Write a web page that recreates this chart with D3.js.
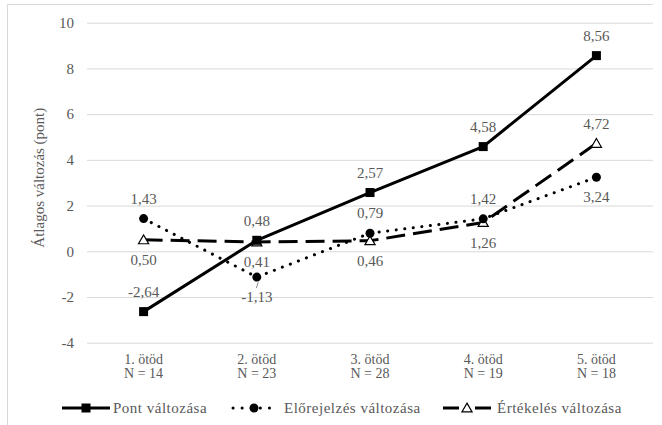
<!DOCTYPE html>
<html>
<head>
<meta charset="utf-8">
<script src="https://cdn.jsdelivr.net/npm/d3@7"></script>
</head>
<body style="margin:0">
<svg id="chart" width="662" height="425"></svg>
<script>
// Quintile groups and their sample sizes
const categories = ["1. ötöd", "2. ötöd", "3. ötöd", "4. ötöd", "5. ötöd"];
const sampleSizes = ["N = 14", "N = 23", "N = 28", "N = 19", "N = 18"];

// Average change per group
const pontValues = [-2.64, 0.48, 2.57, 4.58, 8.56];
const elorejelzesValues = [1.43, -1.13, 0.79, 1.42, 3.24];
const ertekelesValues = [0.50, 0.41, 0.46, 1.26, 4.72];

const seriesNames = ["Pont változása", "Előrejelzés változása", "Értékelés változása"];
const yTicks = [-4, -2, 0, 2, 4, 6, 8, 10];

const TEXT_COLOR = "#595959";

const svg = d3.select("#chart");
const W = 662, H = 425;
const plot = { left: 87, right: 653, top: 22.7, bottom: 342.7 };

// Serif label helper: every text node gets the same font family and colour
function label(parent, size) {
  return parent.append("text")
    .style("font-family", '"Liberation Serif"')
    .style("font-size", size + "px")
    .style("fill", TEXT_COLOR);
}

const x = d3.scaleBand().domain(categories).range([plot.left, plot.right]);
const cx = c => x(c) + x.bandwidth() / 2;
const y = d3.scaleLinear().domain([-4, 10]).range([plot.bottom, plot.top]);

// Chart frame (left and top edges)
svg.append("line").attr("x1", 7.5).attr("x2", 7.5).attr("y1", 4.5).attr("y2", H)
  .attr("stroke", "#d9d9d9").attr("stroke-width", 1);
svg.append("line").attr("x1", 7.5).attr("x2", 653).attr("y1", 4.5).attr("y2", 4.5)
  .attr("stroke", "#d9d9d9").attr("stroke-width", 1);

// Horizontal gridlines; tick labels are drawn separately below
const yAxis = d3.axisLeft(y).tickValues(yTicks).tickSize(-(plot.right - plot.left))
  .tickFormat("");
const gy = svg.append("g").attr("transform", `translate(${plot.left},0)`).call(yAxis);
gy.select(".domain").remove();
gy.selectAll(".tick line").attr("stroke", "#d9d9d9").attr("stroke-width", 1);
gy.selectAll(".tick text").remove();
yTicks.forEach(t => {
  label(svg, 15).attr("x", plot.left - 13).attr("y", y(t)).attr("dy", "0.35em")
    .attr("text-anchor", "end").text(t);
});

// Y axis title
label(svg, 15)
  .attr("transform", `translate(44,${(plot.top + plot.bottom) / 2 - 5}) rotate(-90)`)
  .attr("text-anchor", "middle")
  .text("Átlagos változás (pont)");

// Category labels (two lines)
categories.forEach((c, i) => {
  const t = label(svg, 14).attr("text-anchor", "middle");
  t.append("tspan").attr("x", cx(c)).attr("y", plot.bottom + 21).text(c);
  t.append("tspan").attr("x", cx(c)).attr("y", plot.bottom + 35).text(sampleSizes[i]);
});

// Series definitions: drawing style and label placement per point (-1 above, +1 below)
const series = [
  { name: seriesNames[0], values: pontValues, dash: null, cap: "butt", marker: "square",
    place: [-1, -1, -1, -1, -1] },
  { name: seriesNames[1], values: elorejelzesValues, dash: "0.1 8.5", cap: "round", marker: "circle",
    place: [-1, 1, -1, -1, 1] },
  { name: seriesNames[2], values: ertekelesValues, dash: "19 8", cap: "butt", marker: "triangle",
    place: [1, 1, 1, 1, -1] }
];

const line = d3.line().x((d, i) => cx(categories[i])).y(d => y(d));

function drawMarker(g, type, px, py, s) {
  if (type === "square") {
    g.append("rect").attr("x", px - s / 2).attr("y", py - s / 2).attr("width", s).attr("height", s)
      .attr("fill", "#000");
  } else if (type === "circle") {
    g.append("circle").attr("cx", px).attr("cy", py).attr("r", s / 2).attr("fill", "#000");
  } else {
    const tri = d3.symbol().type(d3.symbolTriangle).size(s * s * 0.55);
    g.append("path").attr("d", tri()).attr("transform", `translate(${px},${py + 1})`)
      .attr("fill", "#fff").attr("stroke", "#000").attr("stroke-width", 1.2);
  }
}

const fmt = v => v.toFixed(2).replace(".", ",");

// Draw series back to front: Értékelés, Előrejelzés, Pont
[2, 1, 0].forEach(si => {
  const s = series[si];
  const g = svg.append("g");
  const p = g.append("path").datum(s.values).attr("d", line)
    .attr("fill", "none").attr("stroke", "#000").attr("stroke-width", 3)
    .attr("stroke-linecap", s.cap).attr("stroke-linejoin", "round");
  if (s.dash) p.attr("stroke-dasharray", s.dash);
  s.values.forEach((v, i) => drawMarker(g, s.marker, cx(categories[i]), y(v), 9));
});

// Leader line for the -1,13 label
svg.append("line")
  .attr("x1", cx(categories[1]) + 1.5).attr("y1", y(elorejelzesValues[1]) + 5)
  .attr("x2", cx(categories[1]) - 0.5).attr("y2", y(elorejelzesValues[1]) + 11)
  .attr("stroke", "#8c8c8c").attr("stroke-width", 1);

// Data labels
series.forEach(s => {
  s.values.forEach((v, i) => {
    label(svg, 15).attr("x", cx(categories[i])).attr("y", y(v) + s.place[i] * 20)
      .attr("dy", "0.35em").attr("text-anchor", "middle").text(fmt(v));
  });
});

// Legend
const legendY = 408;
const legendItems = [
  { s: series[0], x0: 62, tx: 113 },
  { s: series[1], x0: 230, tx: 284 },
  { s: series[2], x0: 443, tx: 497 }
];
legendItems.forEach(it => {
  const g = svg.append("g");
  const l = g.append("line").attr("x1", it.x0 + (it.s.marker === "circle" ? 3 : 0)).attr("x2", it.x0 + 48)
    .attr("y1", legendY).attr("y2", legendY)
    .attr("stroke", "#000").attr("stroke-width", 3).attr("stroke-linecap", it.s.cap);
  if (it.s.marker === "circle") l.attr("stroke-dasharray", "0.1 9");
  if (it.s.marker === "triangle") l.attr("stroke-dasharray", "16 16");
  drawMarker(g, it.s.marker, it.x0 + 24, legendY, 9);
  label(g, 15).attr("x", it.tx).attr("y", legendY).attr("dy", "0.35em")
    .style("letter-spacing", "0.5px").text(it.s.name);
});
</script>
</body>
</html>
